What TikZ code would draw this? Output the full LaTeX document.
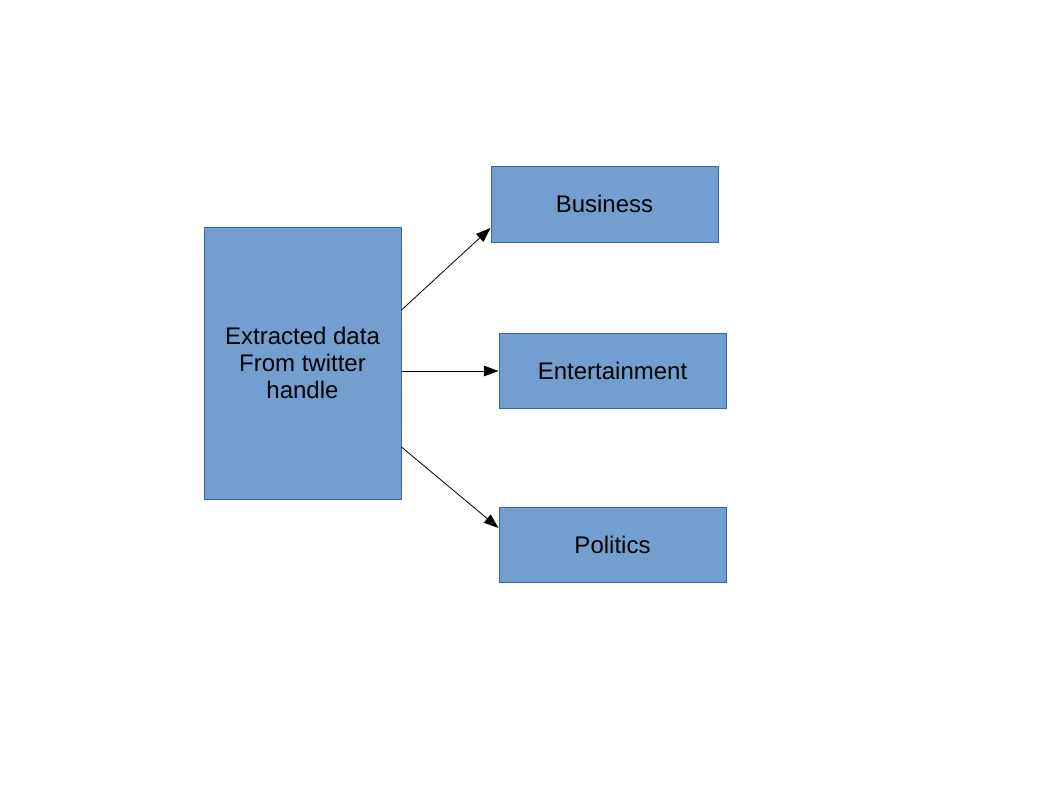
\documentclass[tikz,border=0pt]{standalone}
\usepackage{fontspec}
\setmainfont{Liberation Sans}
\usetikzlibrary{arrows.meta}
\definecolor{boxfill}{HTML}{729FCF}
\definecolor{boxline}{HTML}{3465A4}
\begin{document}
\begin{tikzpicture}[x=0.75pt,y=-0.75pt,
  box/.style={draw=boxline,fill=boxfill,line width=0.75pt,inner sep=0pt,align=center,
    font=\fontsize{18pt}{20.25pt}\selectfont},
  conn/.style={line width=0.6pt,-{Triangle[length=11pt,width=8pt]}}]
\useasboundingbox (0,0) rectangle (1058,794);
\node[box,minimum width=147.75pt,minimum height=204pt] (src) at (302.5,363) {Extracted data\\From twitter\\handle};
\node[box,minimum width=170.25pt,minimum height=57pt] (bus) at (604.5,204) {Business};
\node[box,minimum width=170.25pt,minimum height=56.25pt] (ent) at (612.5,370.5) {Entertainment};
\node[box,minimum width=170.25pt,minimum height=56.25pt] (pol) at (612.5,544.5) {Politics};
\draw[conn] ([yshift=39.75pt]src.east) -- ([yshift=-18pt]bus.west);
\draw[conn] ([yshift=-6pt]src.east) -- ([yshift=-0.375pt]ent.west);
\draw[conn] ([yshift=-63pt]src.east) -- ([yshift=12.375pt]pol.west);
\end{tikzpicture}
\end{document}
